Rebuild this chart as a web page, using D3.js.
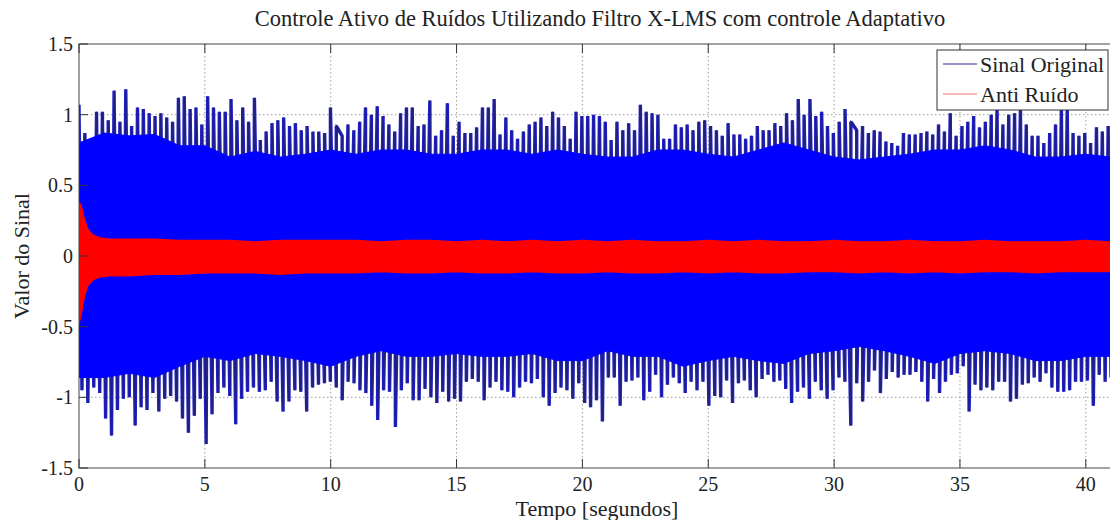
<!DOCTYPE html>
<html>
<head>
<meta charset="utf-8">
<script src="https://cdn.jsdelivr.net/npm/d3@7"></script>
<style>
  body { margin: 0; background: #fff; }
  svg { display: block; }
  text { font-family: "Liberation Serif", "Times New Roman", "DejaVu Serif", serif; }
</style>
</head>
<body>
<div id="chart"></div>
<script>
// picos do sinal original, um a cada ~0.23 s
const sinalTopo = [
  1.07,0.87,0.82,1.02,1.02,0.96,1.17,0.95,1.18,0.92,
  1.05,1.04,1.01,0.99,1.01,0.98,0.95,1.12,1.13,1.04,
  1.05,0.93,1.13,1.05,1.02,1.02,1.11,0.96,1.05,0.95,
  1.12,0.82,0.88,0.94,0.96,0.98,0.92,0.94,0.89,0.92,
  0.88,0.88,0.87,1.05,0.92,0.85,0.93,0.89,0.95,1.05,
  1.00,1.06,0.99,0.93,0.88,1.01,1.05,1.05,0.92,0.93,
  1.10,0.85,0.89,1.08,0.85,0.95,0.87,0.87,0.91,1.05,
  1.05,1.11,0.86,0.98,0.89,0.83,0.88,0.93,0.95,0.98,
  0.92,1.02,0.98,0.92,0.83,1.02,0.99,0.99,
  1.00,0.99,0.95,0.82,0.95,0.89,0.94,0.89,1.07,1.02,
  1.01,1.00,0.83,0.83,0.93,0.91,0.93,0.89,0.95,0.96,
  0.92,0.89,0.85,0.94,0.86,0.86,0.83,0.85,0.92,0.89,
  0.89,0.94,0.92,1.01,0.96,1.11,1.00,1.11,0.99,1.02,
  0.92,0.87,0.95,1.04,0.95,0.89,0.92,0.87,0.89,0.88,
  0.81,0.80,0.78,0.87,0.86,0.86,0.87,0.88,0.86,0.93,
  0.88,1.01,0.85,0.92,0.95,0.99,0.91,0.95,1.00,1.04,
  0.93,1.00,1.01,1.05,0.93,0.85,0.85,0.80,0.87,0.93,
  1.04,1.04,0.87,0.85,0.87,0.80,0.91,0.88,0.92
];
const sinalBase = [
  -0.95,-1.04,-0.93,-0.97,-1.15,-1.27,-1.09,-1.01,-1.00,-1.20,
  -1.07,-1.09,-0.97,-1.10,-1.01,-0.99,-1.03,-1.15,-1.25,-1.13,
  -1.01,-1.33,-1.12,-0.97,-0.93,-0.99,-1.19,-1.01,-0.96,-0.93,
  -0.96,-0.95,-0.89,-1.03,-1.10,-1.03,-0.95,-0.96,-1.10,-0.93,
  -0.91,-0.90,-0.89,-0.93,-1.02,-0.89,-0.90,-0.95,-0.97,-1.06,
  -1.16,-0.95,-0.96,-1.21,-0.95,-0.90,-1.02,-1.02,-0.94,-1.00,
  -1.04,-0.96,-1.03,-1.01,-1.03,-0.89,-0.87,-0.89,-1.02,-0.93,
  -0.89,-0.95,-0.96,-1.00,-0.93,-0.89,-0.90,-0.87,-1.00,-1.06,
  -0.97,-0.93,-0.95,-1.01,-0.90,-1.04,-1.07,-1.02,
  -1.17,-0.86,-0.86,-1.06,-0.89,-0.88,-0.86,-1.02,-0.96,-0.84,
  -1.00,-0.91,-0.86,-0.90,-0.97,-0.89,-0.95,-0.89,-1.06,-0.99,
  -1.00,-0.88,-1.04,-0.90,-0.88,-0.95,-1.00,-0.87,-0.84,-0.89,
  -0.88,-0.94,-1.04,-0.96,-0.93,-1.01,-0.89,-0.95,-1.01,-0.95,
  -0.86,-0.89,-1.20,-0.90,-1.03,-0.89,-0.81,-0.97,-0.87,-0.82,
  -0.86,-0.84,-0.84,-0.82,-0.89,-1.03,-0.87,-0.97,-0.89,-0.84,
  -0.83,-0.78,-1.10,-0.91,-0.95,-0.93,-0.95,-0.89,-0.89,-1.03,
  -1.01,-0.91,-0.90,-0.86,-0.89,-0.83,-0.93,-0.96,-0.96,-0.95,
  -0.89,-0.89,-0.88,-1.06,-0.84,-0.89,-0.86
];

// faixa densa do sinal original, um valor por segundo (t = 0..41)
const nucleoTopo = [0.80,0.87,0.85,0.86,0.78,0.78,0.70,0.74,0.70,0.72,
  0.75,0.72,0.75,0.75,0.72,0.72,0.75,0.75,0.72,0.75,
  0.72,0.70,0.70,0.75,0.75,0.72,0.70,0.75,0.80,0.75,
  0.70,0.68,0.70,0.72,0.75,0.75,0.78,0.75,0.70,0.70,0.72,0.70];
const nucleoBase = [-0.86,-0.86,-0.83,-0.86,-0.78,-0.71,-0.74,-0.69,-0.71,-0.74,
  -0.78,-0.71,-0.67,-0.71,-0.71,-0.69,-0.71,-0.71,-0.69,-0.74,
  -0.74,-0.67,-0.71,-0.71,-0.78,-0.74,-0.71,-0.74,-0.76,-0.69,
  -0.67,-0.64,-0.67,-0.71,-0.76,-0.69,-0.67,-0.69,-0.74,-0.74,-0.71,-0.71];

// envoltória do anti ruído
const antiTempo = [0,0.08,0.2,0.35,0.55,0.8,1.2,
  2,3,4,5,6,7,8,9,10,11,12,13,14,15,16,17,18,19,20,21,
  22,23,24,25,26,27,28,29,30,31,32,33,34,35,36,37,38,39,40,41];
const antiTopo = [0.38,0.36,0.27,0.19,0.15,0.13,0.12,
  0.12,0.12,0.11,0.11,0.11,0.10,0.11,0.11,0.11,0.11,
  0.10,0.11,0.11,0.10,0.11,0.10,0.11,0.10,0.11,0.10,
  0.11,0.10,0.10,0.11,0.10,0.11,0.10,0.10,0.11,0.10,
  0.10,0.11,0.10,0.10,0.11,0.10,0.10,0.10,0.11,0.10];
const antiBase = [-0.48,-0.42,-0.30,-0.21,-0.17,-0.15,-0.14,
  -0.14,-0.13,-0.13,-0.12,-0.12,-0.12,-0.13,-0.12,-0.12,-0.12,
  -0.11,-0.12,-0.12,-0.11,-0.12,-0.12,-0.11,-0.12,-0.12,-0.11,
  -0.12,-0.12,-0.11,-0.12,-0.11,-0.12,-0.12,-0.11,-0.11,-0.12,
  -0.11,-0.12,-0.11,-0.12,-0.11,-0.11,-0.12,-0.11,-0.11,-0.11];

const xTicks = [0,5,10,15,20,25,30,35,40];
const yTicks = [-1.5,-1,-0.5,0,0.5,1,1.5];
const yTickLabels = ["-1.5","-1","-0.5","0","0.5","1","1.5"];
const legendNames = ["Sinal Original", "Anti Ruído"];

const width = 1110, height = 520;
const tEnd = 41.12;
const plot = {left: 79, right: 1114, top: 44, bottom: 468};

const x = d3.scaleLinear().domain([0, tEnd]).range([plot.left, plot.right]);
const y = d3.scaleLinear().domain([-1.5, 1.5]).range([plot.bottom, plot.top]);

const svg = d3.select('#chart').append('svg')
  .attr('width', width).attr('height', height)
  .attr('viewBox', [0, 0, width, height]);

svg.append('clipPath').attr('id', 'clip')
  .append('rect')
  .attr('x', plot.left).attr('y', plot.top)
  .attr('width', plot.right - plot.left).attr('height', plot.bottom - plot.top);

// grade pontilhada
const grid = svg.append('g')
  .attr('stroke', '#a0a0a0')
  .attr('stroke-width', 1)
  .attr('stroke-dasharray', '1.5,2.5');
grid.selectAll('.gx').data(xTicks.slice(1)).join('line')
  .attr('x1', d => x(d)).attr('x2', d => x(d))
  .attr('y1', plot.top).attr('y2', plot.bottom);
grid.selectAll('.gy').data(yTicks.slice(1, -1)).join('line')
  .attr('x1', plot.left).attr('x2', plot.right)
  .attr('y1', d => y(d)).attr('y2', d => y(d));

const dataG = svg.append('g').attr('clip-path', 'url(#clip)');

// sinal original: picos alternando topo / base
const stepTopo = tEnd / sinalTopo.length;
const stepBase = tEnd / sinalBase.length;
const pts = [];
const n = Math.max(sinalTopo.length, sinalBase.length);
for (let i = 0; i < n; i++) {
  if (i < sinalTopo.length) pts.push([i * stepTopo, sinalTopo[i]]);
  if (i < sinalBase.length) pts.push([i * stepBase + stepBase / 2, sinalBase[i]]);
}
pts.sort((a, b) => a[0] - b[0]);

const zigzag = d3.line().x(d => x(d[0])).y(d => y(d[1]));
dataG.append('path')
  .datum(pts)
  .attr('fill', 'none')
  .attr('stroke', '#2020c8')
  .attr('stroke-width', 3.4)
  .attr('stroke-linejoin', 'miter')
  .attr('stroke-miterlimit', 1)
  .attr('d', zigzag);
dataG.append('path')
  .datum(pts)
  .attr('fill', 'none')
  .attr('stroke', '#202078')
  .attr('stroke-width', 1.3)
  .attr('d', zigzag);

dataG.append('path')
  .datum(nucleoTopo.map((v, i) => ({t: i, hi: v, lo: nucleoBase[i]})))
  .attr('fill', '#0000ff')
  .attr('stroke', '#0000ff')
  .attr('stroke-width', 1)
  .attr('d', d3.area().x(d => x(d.t)).y0(d => y(d.lo)).y1(d => y(d.hi)));

// anti ruído
dataG.append('path')
  .datum(antiTempo.map((t, i) => ({t, hi: antiTopo[i], lo: antiBase[i]})))
  .attr('fill', '#ff0000')
  .attr('stroke', '#ff0000')
  .attr('stroke-width', 1.2)
  .attr('d', d3.area().x(d => x(d.t)).y0(d => y(d.lo)).y1(d => y(d.hi)));

// caixa dos eixos
svg.append('rect')
  .attr('x', plot.left).attr('y', plot.top)
  .attr('width', plot.right - plot.left).attr('height', plot.bottom - plot.top)
  .attr('fill', 'none').attr('stroke', '#444').attr('stroke-width', 1);

const tickLen = 9;
const ticks = svg.append('g').attr('stroke', '#333').attr('stroke-width', 1);
xTicks.forEach(d => {
  ticks.append('line').attr('x1', x(d)).attr('x2', x(d)).attr('y1', plot.bottom).attr('y2', plot.bottom - tickLen);
  ticks.append('line').attr('x1', x(d)).attr('x2', x(d)).attr('y1', plot.top).attr('y2', plot.top + tickLen);
});
yTicks.forEach(d => {
  ticks.append('line').attr('x1', plot.left).attr('x2', plot.left + tickLen).attr('y1', y(d)).attr('y2', y(d));
});

svg.append('g')
  .attr('font-size', 20).attr('fill', '#222').attr('text-anchor', 'middle')
  .selectAll('text').data(xTicks).join('text')
  .attr('x', d => x(d)).attr('y', plot.bottom + 23)
  .text(d => d);

svg.append('g')
  .attr('font-size', 20).attr('fill', '#222').attr('text-anchor', 'end')
  .selectAll('text').data(yTicks).join('text')
  .attr('x', plot.left - 6).attr('y', d => y(d)).attr('dy', '0.35em')
  .text((d, i) => yTickLabels[i]);

svg.append('text')
  .attr('x', 600).attr('y', 26)
  .attr('text-anchor', 'middle').attr('font-size', 22.5).attr('fill', '#222')
  .text('Controle Ativo de Ruídos Utilizando Filtro X-LMS com controle Adaptativo');

svg.append('text')
  .attr('x', 597).attr('y', 516)
  .attr('text-anchor', 'middle').attr('font-size', 22).attr('fill', '#222')
  .text('Tempo [segundos]');

svg.append('text')
  .attr('transform', 'translate(29,256) rotate(-90)')
  .attr('text-anchor', 'middle').attr('font-size', 22).attr('fill', '#222')
  .text('Valor do Sinal');

// legenda
const leg = svg.append('g');
leg.append('rect')
  .attr('x', 937).attr('y', 50).attr('width', 171).attr('height', 60)
  .attr('fill', '#fff').attr('stroke', '#333').attr('stroke-width', 1);
const legColors = ['#2a2a8a', '#f07070'];
legendNames.forEach((name, i) => {
  const yy = 64 + i * 30;
  leg.append('line').attr('x1', 943).attr('x2', 977).attr('y1', yy).attr('y2', yy)
    .attr('stroke', legColors[i]).attr('stroke-width', 1);
  leg.append('text').attr('x', 980).attr('y', yy + 8)
    .attr('font-size', 22).attr('fill', '#222').text(name);
});
</script>
</body>
</html>
